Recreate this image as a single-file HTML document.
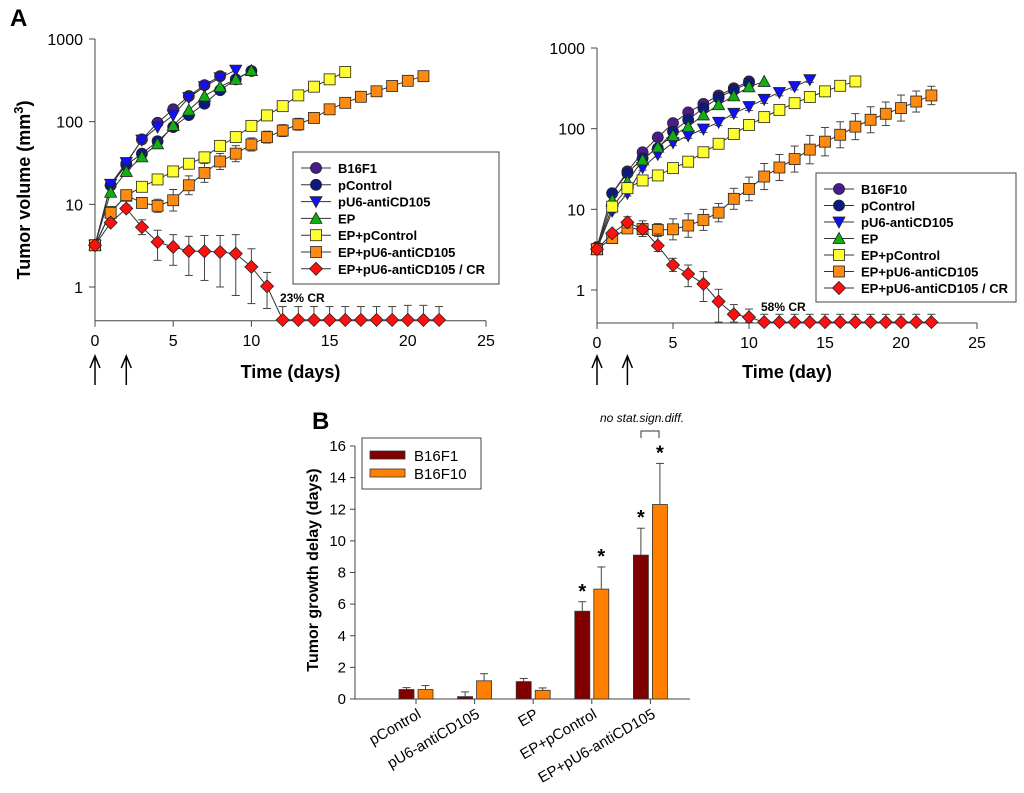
<!DOCTYPE html>
<html><head><meta charset="utf-8"><style>
body{margin:0;background:#fff;}
svg{display:block;font-family:"Liberation Sans",Arial,sans-serif;}
</style></head><body>
<svg id="fig" width="1024" height="793" viewBox="0 0 1024 793"></svg>
<script>
// ---------- Panel A left (B16F1) data ----------
const daysL = [0,1,2,3,4,5,6,7,8,9,10,11,12,13,14,15,16,17,18,19,20,21,22];
const L_b16 = [3.2,17,31,61,97,141,204,277,355];
const L_pctl = [3.2,17,30,41,58,86,120,165,240,325,410];
const L_pu6 = [3.2,17.5,32,60,86,120,196,265,340,420];
const L_ep = [3.2,14,25,37.5,54,90,138,204,265,325,415];
const L_epc = [3.2,8.1,12.7,16.3,20,25,31,37,51,65,89,119,154,208,265,325,400];
const L_epu = [3.2,7.9,12.9,10.4,9.6,11.2,17,24,33,41,53,65,78,93,111,141,169,200,233,270,312,355];
const L_cr = [3.2,6.0,8.9,5.3,3.5,3.05,2.73,2.7,2.65,2.53,1.75,1.02,0.4,0.4,0.4,0.4,0.4,0.4,0.4,0.4,0.4,0.4,0.4];
const L_epcErr = [1,1.05,1.05,1.05,1.05,1.05,1.06,1.06,1.06,1.06,1.06,1.06,1.06,1.06,1.06,1.06,1.06];
const L_epuErr = [1,1.08,1.08,1.12,1.2,1.35,1.3,1.3,1.25,1.25,1.2,1.18,1.18,1.18,1.15,1.15,1.15,1.15,1.14,1.13,1.12,1.12];
const L_crUp = [3.2,6.5,9.8,6.5,4.86,4.3,4.1,4.2,4.2,4.3,2.9,1.5,0.58,0.58,0.58,0.58,0.58,0.58,0.58,0.58,0.6,0.6,0.58];
const L_crLo = [3.2,5.6,8.2,4.3,2.1,1.83,1.38,1.2,1.0,0.79,0.63,0.55,0.4,0.4,0.4,0.4,0.4,0.4,0.4,0.4,0.4,0.4,0.4];
// ---------- Panel A right (B16F10) data ----------
const R_b16 = [3.4,15.8,29.5,51,78,117,159,203,258,317,385];
const R_pctl = [3.3,15.8,28,43,57,92,129,180,242,302,368];
const R_pu6 = [3.2,9.5,15.8,33,48,67,82,99,120,155,188,231,281,333,405];
const R_ep = [3.2,13,22,41,59,82,106,148,198,255,330,385];
const R_epc = [3.2,10.8,18.3,22.8,26.3,32.4,39,51,65,86,111,139,171,207,247,290,340,385];
const R_epu = [3.2,4.4,5.8,5.7,5.55,5.65,6.3,7.4,9.1,13.5,17.9,25.5,33,42,55,69,84,106,129,153,180,217,258];
const R_cr = [3.2,5.05,6.9,5.7,3.55,2.04,1.58,1.19,0.72,0.5,0.46,0.4,0.4,0.4,0.4,0.4,0.4,0.4,0.4,0.4,0.4,0.4,0.4];
const R_pu6Err = [1,1.05,1.08,1.08,1.08,1.08,1.08,1.1,1.1,1.12,1.12,1.12,1.1,1.1,1.08];
const R_epcErr = [1,1.06,1.06,1.06,1.06,1.08,1.08,1.1,1.12,1.12,1.12,1.12,1.12,1.12,1.12,1.1,1.1,1.1];
const R_epuErr = [1,1.05,1.15,1.15,1.2,1.35,1.4,1.35,1.3,1.35,1.4,1.45,1.45,1.45,1.5,1.5,1.45,1.45,1.45,1.4,1.45,1.35,1.3];
const R_crUp = [3.2,5.5,8.1,7.2,4.95,2.47,2.04,1.69,1.02,0.66,0.58,0.5,0.5,0.5,0.5,0.5,0.5,0.5,0.5,0.5,0.5,0.5,0.5];
const R_crLo = [3.2,4.6,5.9,4.6,3.0,1.7,1.1,0.72,0.4,0.4,0.4,0.4,0.4,0.4,0.4,0.4,0.4,0.4,0.4,0.4,0.4,0.4,0.4];
const yTicksA = [1,10,100,1000];
const xTicksA = [0,5,10,15,20,25];
const legendL = ["B16F1","pControl","pU6-antiCD105","EP","EP+pControl","EP+pU6-antiCD105","EP+pU6-antiCD105 / CR"];
const legendR = ["B16F10","pControl","pU6-antiCD105","EP","EP+pControl","EP+pU6-antiCD105","EP+pU6-antiCD105 / CR"];
// ---------- Panel B data ----------
const catsB = ["pControl","pU6-antiCD105","EP","EP+pControl","EP+pU6-antiCD105"];
const b16f1 = [0.6,0.15,1.1,5.55,9.1];
const b16f10 = [0.6,1.15,0.55,6.95,12.3];
const b16f1Err = [0.12,0.3,0.2,0.6,1.7];
const b16f10Err = [0.25,0.45,0.15,1.4,2.6];
const sigF1 = [false,false,false,true,true];
const sigF10 = [false,false,false,true,true];
const yTicksB = [0,2,4,6,8,10,12,14,16];

const svg = document.getElementById('fig');
const NS = 'http://www.w3.org/2000/svg';
function mk(tag, attrs, parent){const e=document.createElementNS(NS,tag);for(const k in attrs)e.setAttribute(k,attrs[k]);(parent||svg).appendChild(e);return e;}
function txt(s, attrs, parent){const e=mk('text',attrs,parent);e.textContent=s;return e;}

const styles = [
 {shape:'circle',fill:'#4b1a8c'},{shape:'circle',fill:'#0a1a80'},{shape:'tdown',fill:'#1010ff'},
 {shape:'tup',fill:'#10b010'},{shape:'square',fill:'#ffff30'},{shape:'square',fill:'#ff8a10'},{shape:'diamond',fill:'#ff1010'}];
function marker(g,shape,x,y,fill){
  const a={fill:fill,stroke:'#222','stroke-width':0.8};
  if(shape==='circle') mk('circle',Object.assign({cx:x,cy:y,r:5.5},a),g);
  else if(shape==='square') mk('rect',Object.assign({x:x-5.5,y:y-5.5,width:11,height:11},a),g);
  else if(shape==='diamond') mk('polygon',Object.assign({points:`${x},${y-6.5} ${x+6.5},${y} ${x},${y+6.5} ${x-6.5},${y}`},a),g);
  else if(shape==='tdown') mk('polygon',Object.assign({points:`${x-6},${y-5} ${x+6},${y-5} ${x},${y+6}`},a),g);
  else mk('polygon',Object.assign({points:`${x-6},${y+5} ${x+6},${y+5} ${x},${y-6}`},a),g);
}

function panelA(cfg){
  const g = mk('g',{});
  
  
  const ymin=0.39;
  const X=d=>cfg.x0+(cfg.x1-cfg.x0)*d/25;
  const Y=v=>cfg.y1-(cfg.y1-cfg.y0)*Math.log10(v)/3;
  const yb=Y(ymin);
  mk('line',{x1:cfg.x0,y1:Y(1000),x2:cfg.x0,y2:yb,stroke:'#444','stroke-width':1},g);
  mk('line',{x1:cfg.x0,y1:yb,x2:cfg.x1,y2:yb,stroke:'#444','stroke-width':1},g);
  yTicksA.forEach(t=>{mk('line',{x1:cfg.x0-6,y1:Y(t),x2:cfg.x0,y2:Y(t),stroke:'#444'},g);
    const e=txt(String(t),{x:cfg.x0-12,y:Y(t)+6,'font-size':16,'text-anchor':'end'},g);
    });
  xTicksA.forEach(t=>{mk('line',{x1:X(t),y1:yb,x2:X(t),y2:yb+6,stroke:'#444'},g);
    const e=txt(String(t),{x:X(t),y:yb+25,'font-size':16,'text-anchor':'middle'},g);
    });
  cfg.series.forEach((s,i)=>{
    const sg=mk('g',{},g);
    
    
    const v=s.v;
    v.forEach((val,j)=>{
      let up=null,lo=null;
      if(s.up){up=s.up[j];lo=s.lo[j];}
      else if(s.f){up=val*s.f[j];lo=val/s.f[j];}
      if(up!==null && up>val*1.02){
        const x=X(daysL[j]);
        mk('line',{x1:x,y1:Y(up),x2:x,y2:Y(Math.max(lo,ymin)),stroke:'#444','stroke-width':1},sg);
        mk('line',{x1:x-4,y1:Y(up),x2:x+4,y2:Y(up),stroke:'#444'},sg);
        if(lo>ymin*1.02) mk('line',{x1:x-4,y1:Y(lo),x2:x+4,y2:Y(lo),stroke:'#444'},sg);
      }
    });
    mk('polyline',{points:v.map((val,j)=>X(daysL[j])+','+Y(val)).join(' '),fill:'none',stroke:'#333','stroke-width':1},sg);
    v.forEach((val,j)=>marker(sg,styles[i].shape,X(daysL[j]),Y(val),styles[i].fill));
  });
  const lg=mk('g',{},g);
  
  mk('rect',{x:cfg.lx,y:cfg.ly,width:cfg.lw,height:cfg.lh,fill:'#fff',stroke:'#444'},lg);
  cfg.labels.forEach((l,i)=>{
    const yy=cfg.ly+16+i*cfg.ls;
    const eg=mk('g',{},lg);
    
    mk('line',{x1:cfg.lx+8,y1:yy,x2:cfg.lx+38,y2:yy,stroke:'#333'},eg);
    marker(eg,styles[i].shape,cfg.lx+23,yy,styles[i].fill);
    txt(l,{x:cfg.lx+45,y:yy+5,'font-size':13,'font-weight':'bold'},eg);
  });
  const cr=txt(cfg.crText,{x:cfg.crx,y:cfg.cry,'font-size':12,'font-weight':'bold'},g);
  
  const xt=txt(cfg.xTitle,{x:(cfg.x0+cfg.x1)/2,y:378,'font-size':18,'font-weight':'bold','text-anchor':'middle'},g);
  
  [0,2].forEach(d=>{
    const ag=mk('g',{stroke:'#000','stroke-width':1.5,fill:'none'},g);
    
    const x=X(d);
    mk('line',{x1:x,y1:357,x2:x,y2:385},ag);
    mk('polyline',{points:`${x-5},${368} ${x},${356} ${x+5},${368}`},ag);
  });
}
panelA({name:'chart-b16f1',x0:95,x1:486,y0:39,y1:287,
  series:[{v:L_b16},{v:L_pctl},{v:L_pu6},{v:L_ep},{v:L_epc,f:L_epcErr},{v:L_epu,f:L_epuErr},{v:L_cr,up:L_crUp,lo:L_crLo}],
  labels:legendL,lx:293,ly:152,lw:206,lh:132,ls:16.8,crText:'23% CR',crx:280,cry:302,xTitle:'Time (days)'});
panelA({name:'chart-b16f10',x0:597,x1:977,y0:48,y1:290,
  series:[{v:R_b16},{v:R_pctl},{v:R_pu6,f:R_pu6Err},{v:R_ep},{v:R_epc,f:R_epcErr},{v:R_epu,f:R_epuErr},{v:R_cr,up:R_crUp,lo:R_crLo}],
  labels:legendR,lx:816,ly:173,lw:200,lh:129,ls:16.5,crText:'58% CR',crx:761,cry:311,xTitle:'Time (day)'});
</script>
<script>
(function(){
  const s=document.getElementById('fig');
  const NS='http://www.w3.org/2000/svg';
  function mk(tag,a,p){const e=document.createElementNS(NS,tag);for(const k in a)e.setAttribute(k,a[k]);(p||s).appendChild(e);return e;}
  function txt(t,a,p){const e=mk('text',a,p);e.textContent=t;return e;}
  const A=txt('A',{x:10,y:26,'font-size':24,'font-weight':'bold'});
  
  const yt=txt('',{transform:'translate(30,190) rotate(-90)','font-size':18,'font-weight':'bold','text-anchor':'middle'});
  
  yt.appendChild(document.createTextNode('Tumor volume (mm'));
  const sup=mk('tspan',{dy:-7,'font-size':13},yt);sup.textContent='3';
  const cl=mk('tspan',{dy:7},yt);cl.textContent=')';
  const g=mk('g',{});
  
  const B=txt('B',{x:312,y:429,'font-size':24,'font-weight':'bold'},g);
  
  const x0=355,x1=690,yb=699,ytop=446;
  const Y=v=>yb-(yb-ytop)*v/16;
  const CX=i=>416+i*58.6;
  mk('line',{x1:x0,y1:ytop,x2:x0,y2:yb,stroke:'#444'},g);
  mk('line',{x1:x0,y1:yb,x2:x1,y2:yb,stroke:'#444'},g);
  yTicksB.forEach(t=>{mk('line',{x1:x0-5,y1:Y(t),x2:x0,y2:Y(t),stroke:'#444'},g);
    const e=txt(String(t),{x:x0-9,y:Y(t)+5,'font-size':15,'text-anchor':'end'},g);
    });
  catsB.forEach((c,i)=>{
    const cx=CX(i);
    mk('line',{x1:cx,y1:yb,x2:cx,y2:yb+5,stroke:'#444'},g);
    const e=txt(c,{transform:`translate(${cx+6},${yb+18}) rotate(-30)`,'font-size':15,'text-anchor':'end'},g);
    
    [[b16f1,b16f1Err,'#800000',-1,sigF1],[b16f10,b16f10Err,'#ff8000',1,sigF10]].forEach(([vals,errs,col,side,sig])=>{
      const bx=side<0?cx-17:cx+2;
      const r=mk('rect',{x:bx,y:Y(vals[i]),width:15,height:yb-Y(vals[i]),fill:col,stroke:'#333','stroke-width':0.8},g);
      
      const mx=bx+7.5,top=Y(vals[i]+errs[i]);
      mk('line',{x1:mx,y1:Y(vals[i]),x2:mx,y2:top,stroke:'#444'},g);
      mk('line',{x1:mx-4,y1:top,x2:mx+4,y2:top,stroke:'#444'},g);
      if(sig[i]){const st=txt('*',{x:mx,y:top-4,'font-size':20,'font-weight':'bold','text-anchor':'middle'},g);
        }
    });
  });
  const ytb=txt('Tumor growth delay (days)',{transform:'translate(318,570) rotate(-90)','font-size':16,'font-weight':'bold','text-anchor':'middle'},g);
  
  const lg=mk('g',{},g);
  
  mk('rect',{x:362,y:438,width:119,height:51,fill:'#fff',stroke:'#444'},lg);
  [['B16F1','#800000',455],['B16F10','#ff8000',473]].forEach(([l,c,yy])=>{
    const eg=mk('g',{},lg);
    mk('rect',{x:370,y:yy-4,width:35,height:8,fill:c,stroke:'#333','stroke-width':0.8},eg);
    txt(l,{x:414,y:yy+6,'font-size':15},eg);
  });
  const ns=txt('no stat.sign.diff.',{x:600,y:422,'font-size':12,'font-style':'italic'},g);
  
  const br=mk('polyline',{points:`641,438 641,431 659,431 659,438`,fill:'none',stroke:'#333'},g);
  
})();
</script>
</body></html>
